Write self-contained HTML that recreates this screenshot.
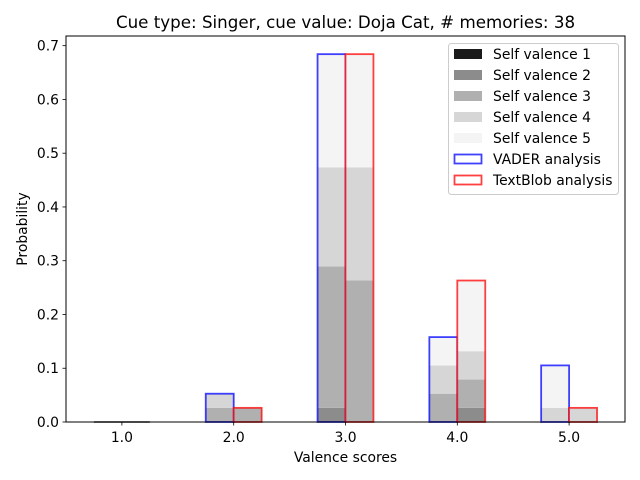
<!DOCTYPE html>
<html><head><meta charset="utf-8"><style>
html,body{margin:0;padding:0;background:#fff;}
svg{display:block;font-family:"DejaVu Sans","Liberation Sans",sans-serif;}
</style></head><body>
<svg id="chart" width="640" height="480" xmlns="http://www.w3.org/2000/svg"></svg>
<script>
const categories = [1, 2, 3, 4, 5];
const totalMemories = 38;
// counts per self valence (1..5) per valence score
const vaderSv1 = [0, 0, 0, 0, 0];
const vaderSv2 = [0, 0, 1, 0, 0];
const vaderSv3 = [0, 1, 10, 2, 0];
const vaderSv4 = [0, 1, 7, 2, 1];
const vaderSv5 = [0, 0, 8, 2, 3];
const blobSv1 = [0, 0, 0, 0, 0];
const blobSv2 = [0, 0, 0, 1, 0];
const blobSv3 = [0, 1, 10, 2, 0];
const blobSv4 = [0, 0, 8, 2, 1];
const blobSv5 = [0, 0, 8, 5, 0];
const yTicks = [0.0, 0.1, 0.2, 0.3, 0.4, 0.5, 0.6, 0.7];
const xTicks = [1, 2, 3, 4, 5];
const legendLabels = ["Self valence 1","Self valence 2","Self valence 3","Self valence 4","Self valence 5","VADER analysis","TextBlob analysis"];

const svg = document.getElementById('chart');
const NS = 'http://www.w3.org/2000/svg';
const L = 66, R = 625, T = 36, B = 422;
const xMin = 0.5, xMax = 5.5, yMin = 0, yMax = 0.718;
const xs = v => L + (v - xMin) / (xMax - xMin) * (R - L);
const ys = v => B - (v - yMin) / (yMax - yMin) * (B - T);
const greys = ['#1a1a1a', '#8c8c8c', '#b0b0b0', '#d6d6d6', '#f4f4f4'];
function mk(tag, attrs, parent) {
  const e = document.createElementNS(NS, tag);
  for (const k in attrs) e.setAttribute(k, attrs[k]);
  (parent || svg).appendChild(e);
  return e;
}
function txt(s, attrs) { const t = mk('text', attrs); t.textContent = s; return t; }

txt('Cue type: Singer, cue value: Doja Cat, # memories: 38', {x: 345.5, y: 28, 'text-anchor': 'middle', 'font-size': 16.7, fill: '#000',  });

const plot = mk('g', { });
const series = [
  {name: 'vader', off: -0.125, stacks: [vaderSv1, vaderSv2, vaderSv3, vaderSv4, vaderSv5], edge: 'rgba(0,0,255,0.75)'},
  {name: 'textblob', off: 0.125, stacks: [blobSv1, blobSv2, blobSv3, blobSv4, blobSv5], edge: 'rgba(255,0,0,0.75)'}
];
const w = 0.25;
series.forEach(s => {
  categories.forEach((c, i) => {
    let cum = 0;
    const x0 = xs(c + s.off - w / 2), x1 = xs(c + s.off + w / 2);
    s.stacks.forEach((arr, k) => {
      const p = arr[i] / totalMemories;
      const y0 = ys(cum), y1 = ys(cum + p);
      const r = mk('rect', {x: x0, y: y1, width: x1 - x0, height: Math.max(y0 - y1, 0), fill: greys[k]}, plot);
      
      
      cum += p;
    });
    if (cum === 0) {
      const z = mk('line', {x1: x0, x2: x1, y1: ys(0), y2: ys(0), stroke: '#1a1a1a', 'stroke-width': 1.5}, plot);
      
      
    } else {
      const o = mk('rect', {x: x0, y: ys(cum), width: x1 - x0, height: ys(0) - ys(cum), fill: 'none', stroke: s.edge, 'stroke-width': 1.8}, plot);
      
      
    }
  });
});

mk('rect', {x: L, y: T, width: R - L, height: B - T, fill: 'none', stroke: '#000', 'stroke-width': 1,  });

yTicks.forEach(v => {
  const y = ys(v);
  mk('line', {x1: L - 3.5, x2: L, y1: y, y2: y, stroke: '#000', 'stroke-width': 0.8});
  const t = txt(v.toFixed(1), {x: L - 7, y: y + 5, 'text-anchor': 'end', 'font-size': 13.9});
  
  
});
xTicks.forEach(v => {
  const x = xs(v);
  mk('line', {x1: x, x2: x, y1: B, y2: B + 3.5, stroke: '#000', 'stroke-width': 0.8});
  const t = txt(v.toFixed(1), {x: x, y: B + 20, 'text-anchor': 'middle', 'font-size': 13.9});
  
  
});
txt('Valence scores', {x: (L + R) / 2, y: 462, 'text-anchor': 'middle', 'font-size': 13.9,  });
txt('Probability', {x: 27, y: (T + B) / 2, 'text-anchor': 'middle', 'font-size': 13.9, transform: 'rotate(-90 27 ' + ((T + B) / 2) + ')',  });

const lg = mk('g', { });
mk('rect', {x: 448.5, y: 43.5, width: 170, height: 151, rx: 3, fill: 'rgba(255,255,255,0.8)', stroke: '#ccc', 'stroke-width': 1}, lg);
legendLabels.forEach((lab, i) => {
  const cy = 54 + i * 21;
  const g = mk('g', {}, lg);
  
  
  if (i < 5) mk('rect', {x: 454, y: cy - 5, width: 28, height: 10, fill: greys[i]}, g);
  else mk('rect', {x: 454.5, y: cy - 4.5, width: 27, height: 9, fill: 'none', stroke: i === 5 ? 'rgba(0,0,255,0.75)' : 'rgba(255,0,0,0.75)', 'stroke-width': 1.8}, g);
  const t = mk('text', {x: 493, y: cy + 5, 'font-size': 13.9}, g);
  t.textContent = lab;
});
</script>
</body></html>
